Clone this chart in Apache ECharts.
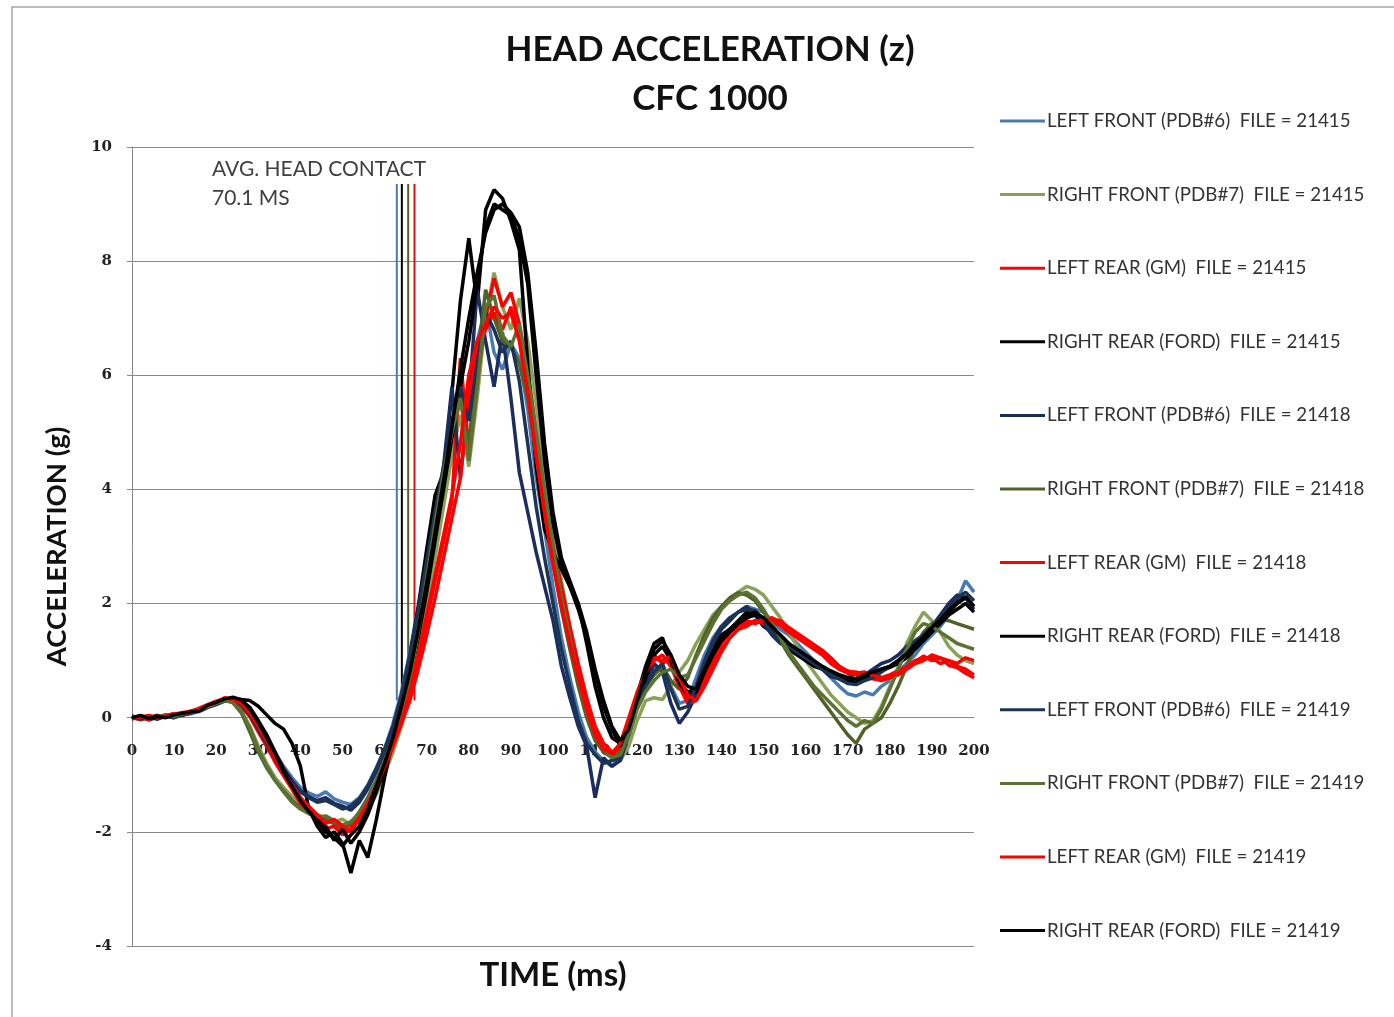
<!DOCTYPE html>
<html>
<head>
<meta charset="utf-8">
<title>Head acceleration (z)</title>
<script src="https://cdn.jsdelivr.net/npm/echarts@6/dist/echarts.min.js"></script>
<style>
  html, body { margin: 0; padding: 0; background: #ffffff; }
  #chart { width: 1394px; height: 1017px; }
</style>
</head>
<body>
<div id="chart"></div>
<script>
// time base (ms), every 2 ms
var timeMs = [
  0, 2, 4, 6, 8, 10, 12, 14, 16, 18,
  20, 22, 24, 26, 28, 30, 32, 34, 36, 38,
  40, 42, 44, 46, 48, 50, 52, 54, 56, 58,
  60, 62, 64, 66, 68, 70, 72, 74, 76, 78,
  80, 82, 84, 86, 88, 90, 92, 94, 96, 98,
  100, 102, 104, 106, 108, 110, 112, 114, 116, 118,
  120, 122, 124, 126, 128, 130, 132, 134, 136, 138,
  140, 142, 144, 146, 148, 150, 152, 154, 156, 158,
  160, 162, 164, 166, 168, 170, 172, 174, 176, 178,
  180, 182, 184, 186, 188, 190, 192, 194, 196, 198,
  200
];

// acceleration (g)
var lf21415 = [
  0.02, -0.04, 0.01, -0.03, 0.03, 0.00, 0.05, 0.07, 0.12, 0.18,
  0.24, 0.30, 0.33, 0.26, 0.10, -0.12, -0.38, -0.62, -0.85, -1.05,
  -1.22, -1.32, -1.38, -1.30, -1.42, -1.48, -1.52, -1.40, -1.18, -0.88,
  -0.55, -0.10, 0.45, 1.15, 1.95, 2.80, 3.55, 4.30, 5.00, 5.55,
  5.30, 6.60, 7.20, 6.40, 6.10, 6.55, 6.30, 5.40, 4.20, 3.30,
  2.30, 1.40, 0.70, 0.10, -0.35, -0.60, -0.75, -0.85, -0.70, -0.20,
  0.25, 0.60, 0.85, 0.90, 0.55, 0.25, 0.30, 0.70, 1.10, 1.40,
  1.60, 1.75, 1.85, 1.95, 1.90, 1.85, 1.70, 1.55, 1.45, 1.30,
  1.15, 1.00, 0.85, 0.70, 0.55, 0.42, 0.38, 0.45, 0.40, 0.55,
  0.65, 0.80, 0.95, 1.10, 1.30, 1.45, 1.60, 1.80, 2.05, 2.40,
  2.20
];
var rf21415 = [
  0.00, 0.03, -0.02, 0.04, 0.02, 0.06, 0.05, 0.10, 0.14, 0.20,
  0.26, 0.30, 0.28, 0.12, -0.15, -0.50, -0.80, -1.05, -1.22, -1.38,
  -1.52, -1.62, -1.70, -1.75, -1.82, -1.78, -1.88, -1.80, -1.62, -1.35,
  -1.00, -0.60, -0.15, 0.40, 1.10, 1.90, 2.80, 3.70, 4.60, 5.30,
  4.40, 5.60, 7.00, 7.80, 7.20, 6.80, 7.35, 6.60, 5.50, 4.30,
  3.30, 2.40, 1.60, 0.90, 0.30, -0.20, -0.50, -0.65, -0.75, -0.50,
  -0.05, 0.30, 0.35, 0.32, 0.55, 0.80, 1.00, 1.30, 1.55, 1.80,
  1.95, 2.10, 2.20, 2.30, 2.25, 2.15, 1.95, 1.75, 1.50, 1.25,
  1.00, 0.80, 0.60, 0.40, 0.25, 0.10, 0.00, -0.10, -0.05, 0.20,
  0.55, 0.90, 1.30, 1.60, 1.85, 1.70, 1.50, 1.25, 1.10, 1.00,
  0.95
];
var lr21415 = [
  0.00, -0.03, 0.02, 0.00, 0.05, 0.03, 0.08, 0.12, 0.16, 0.22,
  0.28, 0.34, 0.30, 0.22, 0.05, -0.20, -0.45, -0.72, -0.98, -1.20,
  -1.42, -1.60, -1.72, -1.80, -1.85, -1.95, -1.88, -1.70, -1.45, -1.15,
  -0.80, -0.45, -0.05, 0.40, 1.00, 1.70, 2.40, 3.10, 3.80, 6.30,
  4.70, 5.90, 7.00, 7.70, 7.20, 7.45, 6.90, 6.10, 5.00, 3.90,
  3.00, 2.30, 1.60, 0.95, 0.35, -0.15, -0.45, -0.60, -0.55, -0.10,
  0.40, 0.80, 1.10, 0.95, 1.05, 0.65, 0.30, 0.35, 0.70, 1.00,
  1.30, 1.50, 1.60, 1.70, 1.65, 1.72, 1.75, 1.68, 1.55, 1.45,
  1.35, 1.25, 1.15, 1.00, 0.85, 0.80, 0.80, 0.75, 0.80, 0.70,
  0.75, 0.82, 0.90, 1.00, 1.05, 1.05, 0.95, 1.00, 0.90, 0.85,
  0.75
];
var rr21415 = [
  0.03, -0.02, 0.00, 0.04, 0.02, 0.05, 0.04, 0.09, 0.14, 0.20,
  0.26, 0.30, 0.34, 0.32, 0.30, 0.20, 0.05, -0.10, -0.20, -0.45,
  -0.85, -1.60, -1.90, -2.10, -2.00, -2.20, -2.72, -2.15, -2.45, -1.80,
  -1.05, -0.35, 0.30, 1.05, 1.95, 2.95, 3.90, 4.30, 5.70, 7.30,
  8.40, 7.25, 8.90, 9.25, 9.10, 8.70, 8.20, 6.20, 4.40, 3.30,
  2.90, 2.60, 2.30, 2.00, 1.30, 0.55, 0.00, -0.35, -0.45, -0.10,
  0.40, 0.90, 1.30, 1.40, 0.95, 0.60, 0.45, 0.50, 0.90, 1.20,
  1.45, 1.55, 1.70, 1.85, 1.80, 1.60, 1.50, 1.35, 1.20, 1.10,
  1.00, 0.90, 0.85, 0.80, 0.75, 0.70, 0.78, 0.72, 0.80, 0.85,
  0.90, 1.00, 1.10, 1.25, 1.40, 1.55, 1.70, 1.85, 2.00, 2.10,
  1.95
];
var lf21418 = [
  -0.02, 0.02, -0.04, 0.01, 0.03, 0.00, 0.06, 0.08, 0.13, 0.19,
  0.25, 0.31, 0.32, 0.24, 0.06, -0.18, -0.42, -0.68, -0.90, -1.10,
  -1.28, -1.38, -1.45, -1.40, -1.50, -1.55, -1.62, -1.48, -1.25, -0.95,
  -0.60, -0.20, 0.35, 1.05, 1.85, 2.70, 3.50, 4.40, 5.80, 4.20,
  5.60, 7.50, 6.60, 5.80, 6.75, 5.60, 4.30, 3.60, 2.90, 2.30,
  1.70, 0.90, 0.35, -0.15, -0.50, -1.40, -0.70, -0.85, -0.75, -0.30,
  0.20, 0.60, 0.95, 0.80, 0.25, -0.10, 0.10, 0.40, 0.90, 1.30,
  1.55, 1.70, 1.85, 1.95, 1.80, 1.65, 1.45, 1.30, 1.25, 1.15,
  1.05, 0.95, 0.85, 0.72, 0.68, 0.62, 0.60, 0.75, 0.85, 0.95,
  1.00, 1.10, 1.25, 1.35, 1.45, 1.60, 1.80, 2.00, 2.15, 2.10,
  1.90
];
var rf21418 = [
  0.01, -0.03, 0.03, 0.00, 0.04, 0.07, 0.05, 0.11, 0.15, 0.21,
  0.27, 0.31, 0.26, 0.08, -0.25, -0.60, -0.88, -1.10, -1.28, -1.45,
  -1.58, -1.65, -1.72, -1.78, -1.85, -1.92, -1.85, -1.65, -1.40, -1.10,
  -0.75, -0.35, 0.10, 0.80, 1.70, 2.60, 3.50, 4.30, 5.00, 5.70,
  4.80, 6.20, 7.50, 7.00, 6.60, 6.50, 6.20, 5.60, 4.60, 3.60,
  2.70, 1.90, 1.20, 0.55, 0.00, -0.40, -0.60, -0.70, -0.60, -0.20,
  0.25, 0.55, 0.75, 0.90, 0.65, 0.50, 0.70, 1.10, 1.45, 1.75,
  1.95, 2.10, 2.19, 2.15, 2.05, 1.85, 1.60, 1.35, 1.10, 0.90,
  0.70, 0.50, 0.30, 0.10, -0.10, -0.30, -0.45, -0.20, -0.10, 0.00,
  0.25, 0.55, 0.90, 1.25, 1.50, 1.65, 1.72, 1.70, 1.65, 1.60,
  1.55
];
var lr21418 = [
  0.02, 0.00, -0.03, 0.03, 0.01, 0.06, 0.09, 0.10, 0.17, 0.23,
  0.29, 0.33, 0.31, 0.20, 0.02, -0.25, -0.50, -0.78, -1.02, -1.25,
  -1.50, -1.65, -1.80, -1.95, -1.90, -2.05, -1.95, -1.80, -1.55, -1.25,
  -0.90, -0.50, -0.10, 0.30, 0.85, 1.45, 2.10, 2.80, 3.50, 4.20,
  5.60, 6.40, 6.80, 7.10, 6.80, 7.20, 6.70, 5.90, 4.90, 3.80,
  2.90, 2.10, 1.40, 0.80, 0.20, -0.25, -0.55, -0.65, -0.50, -0.05,
  0.35, 0.75, 1.00, 1.10, 0.90, 0.55, 0.25, 0.30, 0.60, 0.90,
  1.20, 1.40, 1.55, 1.60, 1.70, 1.65, 1.68, 1.62, 1.50, 1.40,
  1.30, 1.20, 1.10, 0.95, 0.85, 0.78, 0.75, 0.72, 0.68, 0.65,
  0.70, 0.75, 0.85, 0.95, 1.00, 1.10, 1.05, 1.00, 0.95, 1.05,
  1.00
];
var rr21418 = [
  -0.02, 0.02, 0.01, -0.02, 0.04, 0.03, 0.07, 0.09, 0.13, 0.20,
  0.26, 0.32, 0.35, 0.30, 0.18, -0.05, -0.30, -0.60, -0.90, -1.15,
  -1.40, -1.60, -1.75, -1.90, -2.15, -1.95, -2.20, -2.00, -1.70, -1.30,
  -0.90, -0.45, 0.10, 0.70, 1.40, 2.20, 3.10, 4.00, 4.90, 5.80,
  6.60, 7.60, 8.60, 9.00, 8.90, 8.80, 8.40, 7.60, 6.00, 4.50,
  3.40, 2.70, 2.30, 1.90, 1.40, 0.80, 0.20, -0.20, -0.50, -0.30,
  0.20, 0.70, 1.10, 1.25, 1.00, 0.60, 0.40, 0.45, 0.80, 1.10,
  1.35, 1.50, 1.65, 1.75, 1.80, 1.70, 1.55, 1.45, 1.30, 1.15,
  1.05, 0.95, 0.85, 0.75, 0.70, 0.65, 0.62, 0.70, 0.78, 0.82,
  0.88, 0.95, 1.05, 1.20, 1.35, 1.50, 1.65, 1.80, 1.90, 2.00,
  1.85
];
var lf21419 = [
  0.01, -0.02, 0.02, -0.01, 0.02, 0.04, 0.06, 0.09, 0.11, 0.18,
  0.23, 0.29, 0.31, 0.22, 0.04, -0.20, -0.45, -0.70, -0.95, -1.15,
  -1.30, -1.40, -1.48, -1.45, -1.52, -1.60, -1.55, -1.42, -1.20, -0.90,
  -0.55, -0.15, 0.40, 1.10, 1.90, 2.75, 3.60, 4.40, 5.20, 5.80,
  5.20, 6.20, 7.10, 6.80, 6.40, 6.60, 5.90, 4.80, 3.70, 2.80,
  2.00, 1.20, 0.55, -0.05, -0.45, -0.65, -0.80, -0.75, -0.70, -0.25,
  0.20, 0.55, 0.80, 0.95, 0.50, 0.15, 0.20, 0.55, 1.00, 1.35,
  1.60, 1.75, 1.85, 1.90, 1.88, 1.70, 1.50, 1.35, 1.25, 1.15,
  1.05, 0.95, 0.85, 0.75, 0.68, 0.60, 0.58, 0.65, 0.70, 0.80,
  0.90, 1.00, 1.15, 1.30, 1.45, 1.60, 1.75, 1.95, 2.10, 2.20,
  2.05
];
var rf21419 = [
  -0.01, 0.03, 0.00, 0.02, 0.05, 0.02, 0.08, 0.09, 0.15, 0.19,
  0.25, 0.30, 0.27, 0.10, -0.18, -0.55, -0.85, -1.10, -1.30, -1.48,
  -1.60, -1.68, -1.75, -1.72, -1.80, -1.88, -1.82, -1.68, -1.45, -1.15,
  -0.80, -0.40, 0.05, 0.65, 1.50, 2.45, 3.40, 4.30, 5.00, 5.60,
  4.50, 5.80, 7.20, 7.40, 6.70, 6.50, 6.90, 6.00, 5.00, 4.00,
  3.00, 2.10, 1.40, 0.70, 0.10, -0.30, -0.55, -0.70, -0.65, -0.30,
  0.15, 0.45, 0.65, 0.80, 0.85, 0.70, 0.75, 1.05, 1.35, 1.65,
  1.90, 2.05, 2.15, 2.20, 2.10, 1.90, 1.65, 1.40, 1.15, 0.95,
  0.75, 0.55, 0.40, 0.25, 0.10, -0.05, -0.15, -0.05, -0.10, 0.15,
  0.50, 0.85, 1.20, 1.50, 1.65, 1.60, 1.50, 1.40, 1.30, 1.25,
  1.20
];
var lr21419 = [
  -0.01, 0.01, 0.04, 0.00, 0.03, 0.07, 0.06, 0.11, 0.15, 0.21,
  0.27, 0.35, 0.32, 0.24, 0.08, -0.15, -0.40, -0.68, -0.95, -1.18,
  -1.40, -1.55, -1.70, -1.85, -1.78, -1.90, -2.00, -1.75, -1.50, -1.20,
  -0.85, -0.48, -0.08, 0.45, 1.10, 1.80, 2.50, 3.20, 3.90, 4.80,
  6.00, 6.60, 6.90, 7.20, 7.00, 7.10, 6.60, 5.70, 4.60, 3.60,
  2.70, 1.95, 1.30, 0.70, 0.15, -0.30, -0.55, -0.62, -0.45, 0.00,
  0.45, 0.80, 1.05, 1.00, 1.08, 0.70, 0.40, 0.30, 0.55, 0.85,
  1.15, 1.40, 1.55, 1.65, 1.70, 1.70, 1.72, 1.70, 1.58, 1.48,
  1.38, 1.28, 1.18, 1.05, 0.90, 0.82, 0.78, 0.80, 0.75, 0.68,
  0.72, 0.78, 0.88, 0.98, 1.08, 1.00, 1.05, 0.92, 0.88, 0.78,
  0.70
];
var rr21419 = [
  0.00, 0.04, -0.01, 0.02, 0.00, 0.05, 0.08, 0.10, 0.12, 0.22,
  0.27, 0.33, 0.36, 0.31, 0.15, -0.08, -0.35, -0.62, -0.95, -1.20,
  -1.45, -1.65, -1.80, -2.00, -2.10, -2.25, -2.05, -1.90, -1.60, -1.20,
  -0.80, -0.35, 0.20, 0.80, 1.55, 2.35, 3.25, 4.15, 5.10, 6.10,
  7.00, 7.80, 8.50, 8.90, 9.00, 8.85, 8.60, 7.80, 6.40, 4.80,
  3.60, 2.80, 2.40, 2.00, 1.50, 0.85, 0.30, -0.15, -0.40, -0.20,
  0.30, 0.80, 1.20, 1.35, 1.10, 0.75, 0.55, 0.50, 0.85, 1.15,
  1.40, 1.55, 1.68, 1.80, 1.85, 1.75, 1.60, 1.45, 1.30, 1.20,
  1.10, 1.00, 0.90, 0.82, 0.75, 0.70, 0.68, 0.75, 0.80, 0.85,
  0.90, 1.00, 1.12, 1.28, 1.42, 1.58, 1.72, 1.88, 2.02, 2.12,
  1.95
];

var seriesNames = [
  'LEFT FRONT (PDB#6)  FILE = 21415',
  'RIGHT FRONT (PDB#7)  FILE = 21415',
  'LEFT REAR (GM)  FILE = 21415',
  'RIGHT REAR (FORD)  FILE = 21415',
  'LEFT FRONT (PDB#6)  FILE = 21418',
  'RIGHT FRONT (PDB#7)  FILE = 21418',
  'LEFT REAR (GM)  FILE = 21418',
  'RIGHT REAR (FORD)  FILE = 21418',
  'LEFT FRONT (PDB#6)  FILE = 21419',
  'RIGHT FRONT (PDB#7)  FILE = 21419',
  'LEFT REAR (GM)  FILE = 21419',
  'RIGHT REAR (FORD)  FILE = 21419'
];
var seriesValues = [lf21415, rf21415, lr21415, rr21415, lf21418, rf21418, lr21418, rr21418, lf21419, rf21419, lr21419, rr21419];
var seriesColors = ['#4a7ab2', '#8aa258', '#ff0000', '#000000', '#1a2d5e', '#4f6228', '#ff0000', '#000000', '#1c3454', '#5b7232', '#ff0000', '#000000'];

// head contact marker lines (ms) and their top value (g)
var contactTimes = [62.9, 64.1, 65.6, 67.1];
var contactColors = ['#4a7ab2', '#000000', '#4f6228', '#e01010'];
var contactTop = 9.35;
var contactBottom = 0.3;

var yMin = -4, yMax = 10;

// plot box in px
var plotLeft = 132, plotRight = 974, plotTop = 147, plotBottom = 946;
// the time axis sits on the zero line, so push it up from the bottom edge
var zeroOffset = -(plotBottom - plotTop) * (0 - yMin) / (yMax - yMin);

var chart = echarts.init(document.getElementById('chart'));

var series = [];
for (var k = 0; k < contactTimes.length; k++) {
  series.push({
    name: 'contact' + k,
    type: 'line',
    data: [[contactTimes[k], contactBottom], [contactTimes[k], contactTop]],
    symbol: 'none',
    lineStyle: { color: contactColors[k], width: 2 },
    itemStyle: { color: contactColors[k] },
    z: 1
  });
}
for (var i = 0; i < seriesNames.length; i++) {
  var pts = [];
  for (var j = 0; j < timeMs.length; j++) {
    pts.push([timeMs[j], seriesValues[i][j]]);
  }
  series.push({
    name: seriesNames[i],
    type: 'line',
    data: pts,
    symbol: 'none',
    lineStyle: { color: seriesColors[i], width: 3.5 },
    itemStyle: { color: seriesColors[i] },
    z: 2
  });
}

var tickFont = { fontFamily: 'DejaVu Serif', fontWeight: 'bold', fontSize: 15, color: '#222' };

var option = {
  animation: false,
  backgroundColor: '#ffffff',
  title: {
    text: 'HEAD ACCELERATION (z)\nCFC 1000',
    left: 705,
    top: 20,
    textAlign: 'center',
    textStyle: { fontFamily: 'Lato', fontWeight: 'bold', fontSize: 35, lineHeight: 49, color: '#111' }
  },
  legend: {
    data: seriesNames,
    orient: 'vertical',
    left: 995,
    top: 106,
    itemWidth: 45,
    itemHeight: 20,
    itemGap: 53.6,
    icon: 'path://M0,9 L45,9 L45,12 L0,12 Z',
    textStyle: { fontFamily: 'Lato', fontSize: 18.7, lineHeight: 20, color: '#333', padding: [0, 0, 0, -3] }
  },
  grid: {
    left: plotLeft, right: 1394 - plotRight, top: plotTop, bottom: 1017 - plotBottom,
    outerBoundsMode: 'none'
  },
  xAxis: {
    type: 'value',
    min: 0,
    max: 200,
    interval: 10,
    offset: zeroOffset,
    name: 'TIME (ms)',
    nameLocation: 'middle',
    nameGap: 241,
    nameMoveOverlap: false,
    nameTextStyle: { fontFamily: 'Lato', fontWeight: 'bold', fontSize: 33, color: '#111' },
    axisLine: { onZero: false, lineStyle: { color: '#8a8a8a', width: 1 } },
    axisTick: { show: false },
    axisLabel: Object.assign({ margin: 26 }, tickFont),
    splitLine: { show: false }
  },
  yAxis: {
    type: 'value',
    min: yMin,
    max: yMax,
    interval: 2,
    name: 'ACCELERATION (g)',
    nameLocation: 'middle',
    nameRotate: 90,
    nameGap: 61,
    nameTextStyle: { fontFamily: 'Lato', fontWeight: 'bold', fontSize: 27.5, color: '#111' },
    axisLine: { show: true, onZero: false, lineStyle: { color: '#8a8a8a', width: 1 } },
    axisTick: { show: true, inside: false, length: 5, lineStyle: { color: '#8a8a8a' } },
    axisLabel: Object.assign({ margin: 20 }, tickFont),
    splitLine: { show: true, lineStyle: { color: '#8a8a8a', width: 1 } }
  },
  graphic: [
    {
      type: 'rect',
      shape: { x: 12, y: 7, width: 1400, height: 1030 },
      style: { fill: null, stroke: '#a8a8a8', lineWidth: 1.5 },
      silent: true
    },
    {
      type: 'text',
      left: 212,
      top: 155,
      style: { text: 'AVG. HEAD CONTACT\n70.1 MS', fontFamily: 'Lato', fontSize: 21, lineHeight: 29, fill: '#404040' }
    }
  ],
  series: series
};

chart.setOption(option);
</script>
</body>
</html>
